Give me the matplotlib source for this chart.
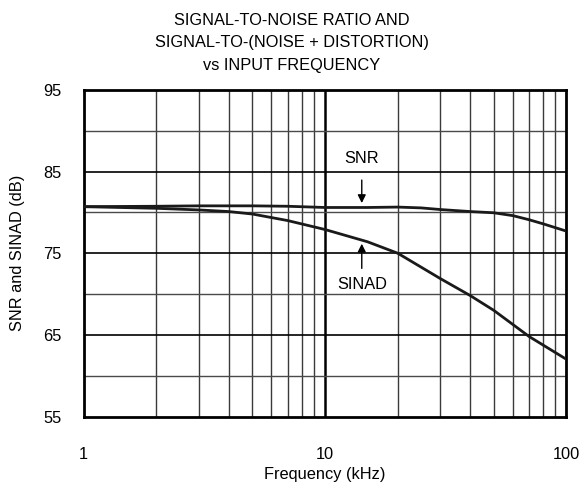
import matplotlib
matplotlib.use("Agg")
import matplotlib.pyplot as plt
import numpy as np

plt.rcParams['font.family'] = ['Liberation Sans', 'DejaVu Sans']

freq_snr = [1, 2, 3, 5, 7, 10, 15, 20, 25, 30, 40, 50, 60, 70, 80, 100]
snr = [80.7, 80.75, 80.8, 80.8, 80.75, 80.6, 80.6, 80.65, 80.55, 80.35, 80.1, 79.95, 79.6, 79.1, 78.6, 77.7]

freq_sinad = [1, 2, 3, 4, 5, 7, 10, 15, 20, 30, 40, 50, 70, 100]
sinad = [80.7, 80.5, 80.3, 80.1, 79.8, 79.0, 77.9, 76.4, 75.0, 71.9, 69.8, 68.0, 64.8, 62.0]

y_ticks = [55, 65, 75, 85, 95]
x_ticks = [1, 10, 100]
x_tick_labels = ['1', '10', '100']

FS = 11.8

fig = plt.figure(figsize=(5.84, 4.86), dpi=100)
ax = fig.add_axes([0.143, 0.143, 0.827, 0.672])
ax.set_xscale('log')
ax.set_xlim(1, 100)
ax.set_ylim(55, 95)

# grid
for dec in [1, 10]:
    for m in range(2, 10):
        ax.axvline(dec * m, color='#3a3a3a', lw=1.0, zorder=1)
ax.axvline(10, color='black', lw=1.8, zorder=1)
for y in [60, 70, 80, 90]:
    ax.axhline(y, color='#4a4a4a', lw=1.0, zorder=1)
for y in [65, 75, 85]:
    ax.axhline(y, color='black', lw=1.2, zorder=1)

ax.plot(freq_snr, snr, color='#1a1a1a', lw=2.0, zorder=3, solid_capstyle='butt')
ax.plot(freq_sinad, sinad, color='#1a1a1a', lw=2.0, zorder=3, solid_capstyle='butt')

for s in ax.spines.values():
    s.set_linewidth(2.0)
    s.set_color('black')

ax.set_xticks(x_ticks)
ax.set_xticklabels(x_tick_labels)
ax.xaxis.set_minor_locator(matplotlib.ticker.NullLocator())
ax.set_yticks(y_ticks)
ax.tick_params(axis='both', length=0, labelsize=FS)
ax.tick_params(axis='x', pad=22)
ax.tick_params(axis='y', pad=16)

xl = ax.set_xlabel('Frequency (kHz)', fontsize=FS)
yl = ax.set_ylabel('SNR and SINAD (dB)', fontsize=FS)
xl.set_va('center')
yl.set_va('center')
ax.xaxis.set_label_coords(0.5, -0.178)
ax.yaxis.set_label_coords(-0.136, 0.5)

fig.text(0.5, 0.958, 'SIGNAL-TO-NOISE RATIO AND', ha='center', va='center', fontsize=FS)
fig.text(0.5, 0.912, 'SIGNAL-TO-(NOISE + DISTORTION)', ha='center', va='center', fontsize=FS)
fig.text(0.5, 0.866, 'vs INPUT FREQUENCY', ha='center', va='center', fontsize=FS)

# annotations
ax.annotate('', xy=(14.2, 80.8), xytext=(14.2, 84.3),
            arrowprops=dict(arrowstyle='-|>', color='black', lw=1.0, mutation_scale=12), zorder=4)
ax.text(14.2, 86.6, 'SNR', ha='center', va='center', fontsize=FS)
ax.annotate('', xy=(14.2, 76.5), xytext=(14.2, 72.8),
            arrowprops=dict(arrowstyle='-|>', color='black', lw=1.0, mutation_scale=12), zorder=4)
ax.text(14.2, 71.2, 'SINAD', ha='center', va='center', fontsize=FS)

fig.savefig('out.png', dpi=100)
